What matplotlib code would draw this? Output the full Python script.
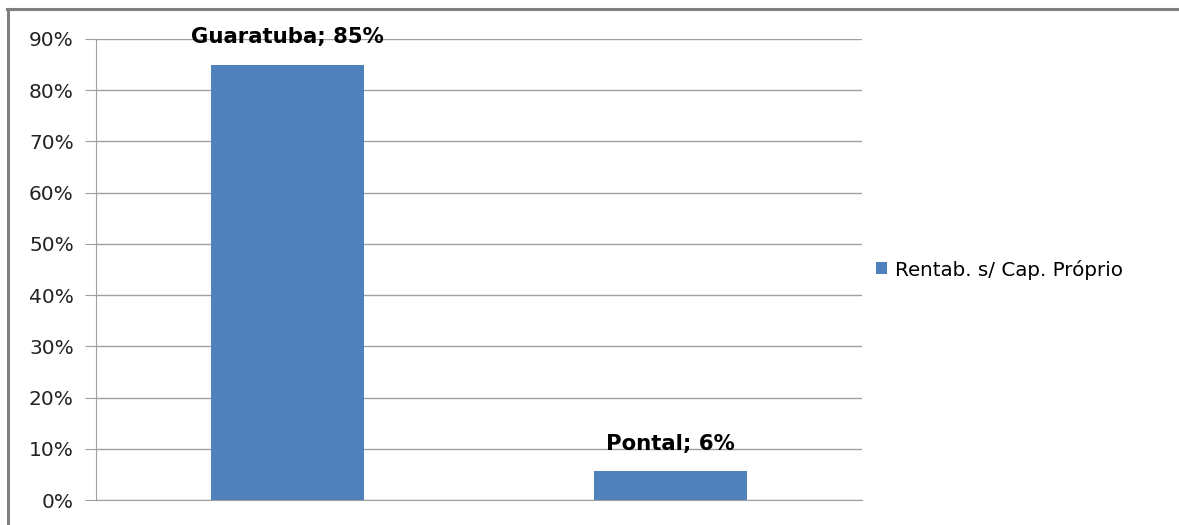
import matplotlib.pyplot as plt
from matplotlib.lines import Line2D

## data
categories = ['Guaratuba', 'Pontal']
values = [0.85, 0.056]
labels = ['Guaratuba; 85%', 'Pontal; 6%']
seriesName = 'Rentab. s/ Cap. Próprio'
yticks = [0, 0.1, 0.2, 0.3, 0.4, 0.5, 0.6, 0.7, 0.8, 0.9]

plt.rcParams['font.family'] = ['DejaVu Sans']
barColor = '#4f81bd'
gridColor = '#a0a0a0'

fig = plt.figure(figsize=(11.79, 5.25), dpi=100)
ax = fig.add_axes([96/1179, 25/525, 766/1179, 461/525])

x = range(len(categories))
bars = ax.bar(x, values, width=0.4, color=barColor, label=seriesName, zorder=2)

for i in x:
    ax.annotate(labels[i], (i, values[i]), xytext=(0, 20), textcoords='offset points',
                ha='center', va='center', fontsize=15.3, fontweight='bold', color='black', zorder=3)

ax.set_xlim(-0.5, 1.5)
ax.set_ylim(0, 0.9)
ax.set_yticks(yticks)
ax.set_yticklabels([str(int(round(t*100))) + '%' for t in yticks], fontsize=14.5, color='#222222')
ax.set_xticks([])
ax.grid(axis='y', color=gridColor, linewidth=1, zorder=0)
for s in ['top', 'right']:
    ax.spines[s].set_visible(False)
ax.spines['left'].set_color(gridColor)
ax.spines['bottom'].set_color(gridColor)
ax.tick_params(axis='y', length=8, color=gridColor, pad=8)

ax.legend(loc='center left', bbox_to_anchor=(1.0, 0.5), frameon=False, fontsize=14.3,
          handlelength=0.55, handleheight=0.55, handletextpad=0.4, borderaxespad=0.3)

# outer frame (top and left only, rest is cut)
fig.add_artist(Line2D([7/1179, 1.0], [1 - 9/525, 1 - 9/525], transform=fig.transFigure, color='#808080', linewidth=2.2))
fig.add_artist(Line2D([8/1179, 8/1179], [0, 1 - 9/525], transform=fig.transFigure, color='#808080', linewidth=2.2))

plt.savefig('out.png', dpi=100)
